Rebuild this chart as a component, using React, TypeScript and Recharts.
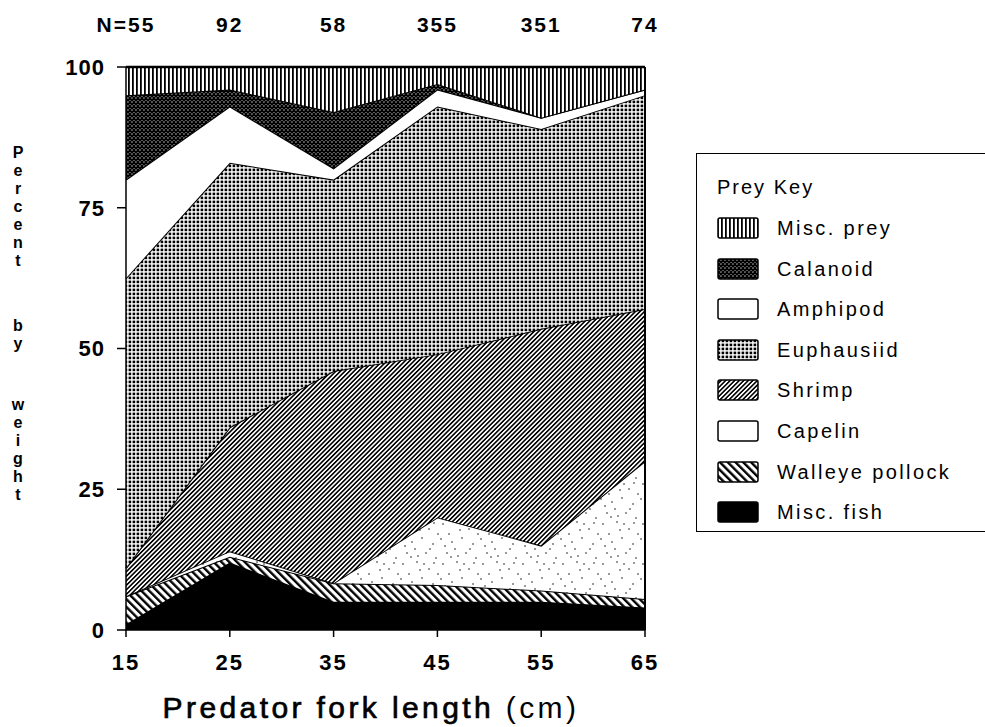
import React from "react";
import { AreaChart, Area, XAxis, YAxis, ReferenceLine, Legend } from "recharts";

// predator fork length (cm) and sample size per class
const lengths = [15, 25, 35, 45, 55, 65];
const sampleSizes = ["N=55", "92", "58", "355", "351", "74"];

// percent by weight
const miscFish = [1, 12, 5, 5, 5, 4];
const walleyePollock = [5, 1, 3.3, 3, 2, 1.5];
const capelin = [0, 1, 0, 12, 8, 24.5];
const shrimp = [5, 22, 37.7, 29, 38.5, 27];
const euphausiid = [51.5, 47, 34, 44, 35.5, 38];
const amphipod = [17.5, 10, 2, 3, 2, 1];
const calanoid = [15, 3, 10, 1, 0, 0];
const miscPrey = [5, 4, 8, 3, 9, 4];

const yTicks = [0, 25, 50, 75, 100];

const FONT = '"Liberation Sans", Arial, Helvetica, sans-serif';

// bottom to top in stack order
const series = [
  { key: "miscFish", name: "Misc. fish", values: miscFish, fill: "#000", legendFill: "#000" },
  { key: "walleye", name: "Walleye pollock", values: walleyePollock, fill: "url(#pWalleye)", legendFill: "url(#pWalleye)" },
  { key: "capelin", name: "Capelin", values: capelin, fill: "url(#pCapelin)", legendFill: "#fff" },
  { key: "shrimp", name: "Shrimp", values: shrimp, fill: "url(#pShrimp)", legendFill: "url(#pShrimp)" },
  { key: "euphausiid", name: "Euphausiid", values: euphausiid, fill: "url(#pEuph)", legendFill: "url(#pEuph)" },
  { key: "amphipod", name: "Amphipod", values: amphipod, fill: "#fff", legendFill: "#fff" },
  { key: "calanoid", name: "Calanoid", values: calanoid, fill: "url(#pCalanoid)", legendFill: "url(#pCalanoid)" },
  { key: "miscPrey", name: "Misc. prey", values: miscPrey, fill: "url(#pMiscPrey)", legendFill: "url(#pMiscPrey)" },
];

const data = lengths.map((x, i) => {
  const row: Record<string, number> = { x };
  series.forEach((s) => {
    row[s.key] = s.values[i];
  });
  return row;
});

function NTick(props: any) {
  const { x, payload } = props;
  const i = lengths.indexOf(payload.value);
  return (
    <text x={x} y={32} textAnchor="middle" fontFamily={FONT} fontSize={21} fontWeight={700} letterSpacing={2} fill="#000">
      {sampleSizes[i]}
    </text>
  );
}

const renderLegend = () => (
  <div style={{ position: "relative", width: 295, height: 379, boxSizing: "border-box", border: "1.5px solid #000", background: "#fff", fontFamily: FONT, color: "#000" }}>
    <div style={{ position: "absolute", left: 20, top: 22, fontSize: 20, letterSpacing: 2, lineHeight: "22px" }}>Prey Key</div>
    {[...series].reverse().map((s, i) => (
      <div key={s.key} style={{ position: "absolute", left: 20, top: 63 + i * 40.6, height: 22, display: "flex", alignItems: "center" }}>
        <svg width={42} height={22} style={{ display: "block" }}>
          <rect x={1} y={1} width={40} height={20} rx={2} fill={s.legendFill} stroke="#000" strokeWidth={1.5} />
        </svg>
        <span style={{ marginLeft: 18, fontSize: 20, letterSpacing: 2.4, lineHeight: "22px" }}>{s.name}</span>
      </div>
    ))}
  </div>
);

const percentLetters = "Percent".split("");
const byLetters = "by".split("");
const weightLetters = "weight".split("");

export default function App() {
  const capelinDots = [
    [3, 4], [17, 2], [29, 9], [9, 14], [22, 18], [33, 24], [5, 26], [15, 29], [26, 33], [11, 37], [36, 38], [20, 10],
    [38, 14], [12, 22], [30, 29], [24, 4], [7, 33], [34, 3], [18, 36], [1, 19],
  ];
  return (
    <div style={{ position: "absolute", left: 0, top: 0, width: 985, height: 727, overflow: "hidden", background: "#fff" }}>
      <AreaChart width={985} height={727} data={data} margin={{ top: 27, right: 340, bottom: 47, left: 56 }}>
        <defs>
          <pattern id="pMiscPrey" width="4" height="8" patternUnits="userSpaceOnUse">
            <rect width="4" height="8" fill="#fff" />
            <rect x="0" width="1.8" height="8" fill="#000" />
          </pattern>
          <pattern id="pCalanoid" width="4" height="4" patternUnits="userSpaceOnUse">
            <rect width="4" height="4" fill="#fff" />
            <path d="M0,0L4,4M4,0L0,4" stroke="#000" strokeWidth="1.6" />
          </pattern>
          <pattern id="pEuph" width="4" height="4" patternUnits="userSpaceOnUse">
            <rect width="4" height="4" fill="#fff" />
            <rect x="0.6" y="0.6" width="2.6" height="2.6" fill="#000" />
          </pattern>
          <pattern id="pShrimp" width="3.2" height="10" patternUnits="userSpaceOnUse" patternTransform="rotate(45)">
            <rect width="3.2" height="10" fill="#fff" />
            <rect width="1.6" height="10" fill="#000" />
          </pattern>
          <pattern id="pWalleye" width="5.5" height="10" patternUnits="userSpaceOnUse" patternTransform="rotate(-45)">
            <rect width="5.5" height="10" fill="#fff" />
            <rect width="2.4" height="10" fill="#000" />
          </pattern>
          <pattern id="pCapelin" width="40" height="40" patternUnits="userSpaceOnUse">
            <rect width="40" height="40" fill="#fff" />
            {capelinDots.map(([cx, cy], i) => (
              <circle key={i} cx={cx} cy={cy} r={0.75} fill="#000" />
            ))}
          </pattern>
        </defs>
        <XAxis
          xAxisId="top"
          orientation="top"
          dataKey="x"
          type="number"
          domain={[15, 65]}
          ticks={lengths}
          height={40}
          axisLine={{ stroke: "#000", strokeWidth: 2.5 }}
          tickLine={false}
          tick={<NTick />}
        />
        <XAxis
          xAxisId="bottom"
          dataKey="x"
          type="number"
          domain={[15, 65]}
          ticks={lengths}
          height={50}
          axisLine={{ stroke: "#000", strokeWidth: 1.5 }}
          tickLine={{ stroke: "#000", strokeWidth: 1.5 }}
          tickSize={7}
          tickMargin={17}
          tick={{ fill: "#000", fontSize: 22, fontWeight: 700, fontFamily: FONT, letterSpacing: 2 }}
        />
        <YAxis
          type="number"
          domain={[0, 100]}
          ticks={yTicks}
          width={70}
          axisLine={{ stroke: "#000", strokeWidth: 1.5 }}
          tickLine={{ stroke: "#000", strokeWidth: 1.5 }}
          tickSize={9}
          tickMargin={12}
          tick={{ fill: "#000", fontSize: 22, fontWeight: 700, fontFamily: FONT, letterSpacing: 1 }}
        />
        {series.map((s) => (
          <Area
            key={s.key}
            xAxisId="bottom"
            dataKey={s.key}
            name={s.name}
            stackId="diet"
            type="linear"
            fill={s.fill}
            fillOpacity={1}
            stroke="#000"
            strokeWidth={2}
            dot={false}
            activeDot={false}
            isAnimationActive={false}
          />
        ))}
        <ReferenceLine xAxisId="bottom" x={65} stroke="#000" strokeWidth={2} />
        <Legend
          layout="vertical"
          align="center"
          verticalAlign="middle"
          content={renderLegend}
          wrapperStyle={{ left: 696, top: 153, width: 295, height: 379 }}
        />
      </AreaChart>
      <svg width={985} height={727} style={{ position: "absolute", left: 0, top: 0, pointerEvents: "none" }}>
        <g fontFamily={FONT} fontSize={16} fontWeight={700} fill="#000" textAnchor="middle">
          {percentLetters.map((c, i) => (
            <text key={"p" + i} x={18} y={158 + i * 18}>{c}</text>
          ))}
          {byLetters.map((c, i) => (
            <text key={"b" + i} x={18} y={331 + i * 18}>{c}</text>
          ))}
          {weightLetters.map((c, i) => (
            <text key={"w" + i} x={18} y={410 + i * 18}>{c}</text>
          ))}
        </g>
        <text x={371} y={718} textAnchor="middle" fontFamily={FONT} fontSize={30} letterSpacing={3.4} fill="#000">
          <tspan stroke="#000" strokeWidth={0.7}>Predator fork length </tspan>
          <tspan>(cm)</tspan>
        </text>
      </svg>
    </div>
  );
}
